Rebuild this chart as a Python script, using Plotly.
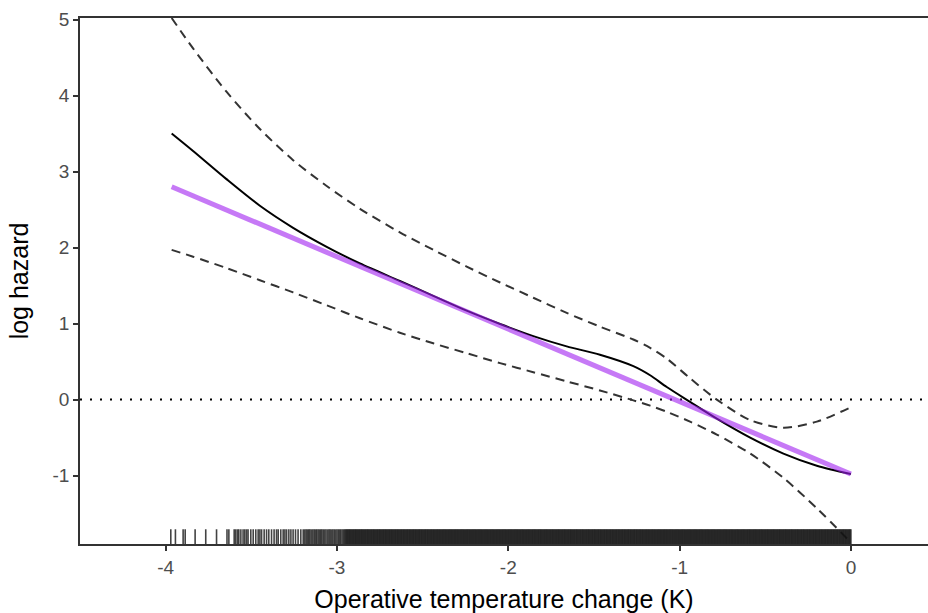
import plotly.graph_objects as go

# ---------------- data ----------------
x_grid = [-3.965, -3.84, -3.645, -3.45, -3.256, -3.06, -2.866, -2.633, -2.438, -2.243,
          -2.048, -1.854, -1.659, -1.465, -1.27, -1.172, -1.075, -0.939, -0.783, -0.588,
          -0.394, -0.199, 0.0]
fit = [3.50, 3.27, 2.90, 2.55, 2.26, 2.01, 1.79, 1.56, 1.365, 1.17,
       0.995, 0.835, 0.70, 0.59, 0.44, 0.32, 0.165, -0.03, -0.25, -0.50,
       -0.71, -0.87, -0.98]
upper = [5.02, 4.62, 4.05, 3.56, 3.15, 2.81, 2.51, 2.20, 1.97, 1.75,
         1.54, 1.34, 1.14, 0.96, 0.79, 0.68, 0.54, 0.28, 0.00, -0.27,
         -0.37, -0.29, -0.10]
lower = [1.97, 1.88, 1.73, 1.57, 1.41, 1.24, 1.07, 0.88, 0.74, 0.61,
         0.48, 0.36, 0.24, 0.12, -0.01, -0.08, -0.16, -0.29, -0.46, -0.71,
         -1.03, -1.43, -1.88]

linear_x = [-3.965, 0.0]
linear_y = [2.80, -0.98]

ref_y = 0

rug_sparse = [-3.970, -3.943, -3.898, -3.886, -3.828, -3.766, -3.703, -3.642, -3.631,
              -3.600, -3.591, -3.581, -3.573, -3.561, -3.548, -3.538, -3.528, -3.519,
              -3.503, -3.489, -3.474, -3.460, -3.450, -3.440, -3.425, -3.411, -3.398,
              -3.382, -3.367, -3.353, -3.343, -3.328, -3.314, -3.304, -3.294, -3.281,
              -3.269, -3.256, -3.242, -3.227, -3.211, -3.197, -3.188,
              -3.180, -3.172, -3.165, -3.158, -3.150, -3.141, -3.133, -3.125, -3.118,
              -3.110, -3.102, -3.095, -3.088, -3.080, -3.072, -3.064, -3.055, -3.047,
              -3.040, -3.032, -3.024, -3.016, -3.008, -3.000, -2.992, -2.985, -2.978,
              -2.970, -2.962, -2.956]

rug_dense = [
    -2.950, -2.945, -2.940, -2.935, -2.930, -2.925, -2.920, -2.915, -2.910, -2.905,
    -2.900, -2.895, -2.890, -2.885, -2.880, -2.875, -2.870, -2.865, -2.860, -2.855,
    -2.850, -2.845, -2.840, -2.835, -2.830, -2.825, -2.820, -2.815, -2.810, -2.805,
    -2.800, -2.795, -2.790, -2.785, -2.780, -2.775, -2.770, -2.765, -2.760, -2.755,
    -2.750, -2.745, -2.740, -2.735, -2.730, -2.725, -2.720, -2.715, -2.710, -2.705,
    -2.700, -2.695, -2.690, -2.685, -2.680, -2.675, -2.670, -2.665, -2.660, -2.655,
    -2.650, -2.645, -2.640, -2.635, -2.630, -2.625, -2.620, -2.615, -2.610, -2.605,
    -2.600, -2.595, -2.590, -2.585, -2.580, -2.575, -2.570, -2.565, -2.560, -2.555,
    -2.550, -2.545, -2.540, -2.535, -2.530, -2.525, -2.520, -2.515, -2.510, -2.505,
    -2.500, -2.495, -2.490, -2.485, -2.480, -2.475, -2.470, -2.465, -2.460, -2.455,
    -2.450, -2.445, -2.440, -2.435, -2.430, -2.425, -2.420, -2.415, -2.410, -2.405,
    -2.400, -2.395, -2.390, -2.385, -2.380, -2.375, -2.370, -2.365, -2.360, -2.355,
    -2.350, -2.345, -2.340, -2.335, -2.330, -2.325, -2.320, -2.315, -2.310, -2.305,
    -2.300, -2.295, -2.290, -2.285, -2.280, -2.275, -2.270, -2.265, -2.260, -2.255,
    -2.250, -2.245, -2.240, -2.235, -2.230, -2.225, -2.220, -2.215, -2.210, -2.205,
    -2.200, -2.195, -2.190, -2.185, -2.180, -2.175, -2.170, -2.165, -2.160, -2.155,
    -2.150, -2.145, -2.140, -2.135, -2.130, -2.125, -2.120, -2.115, -2.110, -2.105,
    -2.100, -2.095, -2.090, -2.085, -2.080, -2.075, -2.070, -2.065, -2.060, -2.055,
    -2.050, -2.045, -2.040, -2.035, -2.030, -2.025, -2.020, -2.015, -2.010, -2.005,
    -2.000, -1.995, -1.990, -1.985, -1.980, -1.975, -1.970, -1.965, -1.960, -1.955,
    -1.950, -1.945, -1.940, -1.935, -1.930, -1.925, -1.920, -1.915, -1.910, -1.905,
    -1.900, -1.895, -1.890, -1.885, -1.880, -1.875, -1.870, -1.865, -1.860, -1.855,
    -1.850, -1.845, -1.840, -1.835, -1.830, -1.825, -1.820, -1.815, -1.810, -1.805,
    -1.800, -1.795, -1.790, -1.785, -1.780, -1.775, -1.770, -1.765, -1.760, -1.755,
    -1.750, -1.745, -1.740, -1.735, -1.730, -1.725, -1.720, -1.715, -1.710, -1.705,
    -1.700, -1.695, -1.690, -1.685, -1.680, -1.675, -1.670, -1.665, -1.660, -1.655,
    -1.650, -1.645, -1.640, -1.635, -1.630, -1.625, -1.620, -1.615, -1.610, -1.605,
    -1.600, -1.595, -1.590, -1.585, -1.580, -1.575, -1.570, -1.565, -1.560, -1.555,
    -1.550, -1.545, -1.540, -1.535, -1.530, -1.525, -1.520, -1.515, -1.510, -1.505,
    -1.500, -1.495, -1.490, -1.485, -1.480, -1.475, -1.470, -1.465, -1.460, -1.455,
    -1.450, -1.445, -1.440, -1.435, -1.430, -1.425, -1.420, -1.415, -1.410, -1.405,
    -1.400, -1.395, -1.390, -1.385, -1.380, -1.375, -1.370, -1.365, -1.360, -1.355,
    -1.350, -1.345, -1.340, -1.335, -1.330, -1.325, -1.320, -1.315, -1.310, -1.305,
    -1.300, -1.295, -1.290, -1.285, -1.280, -1.275, -1.270, -1.265, -1.260, -1.255,
    -1.250, -1.245, -1.240, -1.235, -1.230, -1.225, -1.220, -1.215, -1.210, -1.205,
    -1.200, -1.195, -1.190, -1.185, -1.180, -1.175, -1.170, -1.165, -1.160, -1.155,
    -1.150, -1.145, -1.140, -1.135, -1.130, -1.125, -1.120, -1.115, -1.110, -1.105,
    -1.100, -1.095, -1.090, -1.085, -1.080, -1.075, -1.070, -1.065, -1.060, -1.055,
    -1.050, -1.045, -1.040, -1.035, -1.030, -1.025, -1.020, -1.015, -1.010, -1.005,
    -1.000, -0.995, -0.990, -0.985, -0.980, -0.975, -0.970, -0.965, -0.960, -0.955,
    -0.950, -0.945, -0.940, -0.935, -0.930, -0.925, -0.920, -0.915, -0.910, -0.905,
    -0.900, -0.895, -0.890, -0.885, -0.880, -0.875, -0.870, -0.865, -0.860, -0.855,
    -0.850, -0.845, -0.840, -0.835, -0.830, -0.825, -0.820, -0.815, -0.810, -0.805,
    -0.800, -0.795, -0.790, -0.785, -0.780, -0.775, -0.770, -0.765, -0.760, -0.755,
    -0.750, -0.745, -0.740, -0.735, -0.730, -0.725, -0.720, -0.715, -0.710, -0.705,
    -0.700, -0.695, -0.690, -0.685, -0.680, -0.675, -0.670, -0.665, -0.660, -0.655,
    -0.650, -0.645, -0.640, -0.635, -0.630, -0.625, -0.620, -0.615, -0.610, -0.605,
    -0.600, -0.595, -0.590, -0.585, -0.580, -0.575, -0.570, -0.565, -0.560, -0.555,
    -0.550, -0.545, -0.540, -0.535, -0.530, -0.525, -0.520, -0.515, -0.510, -0.505,
    -0.500, -0.495, -0.490, -0.485, -0.480, -0.475, -0.470, -0.465, -0.460, -0.455,
    -0.450, -0.445, -0.440, -0.435, -0.430, -0.425, -0.420, -0.415, -0.410, -0.405,
    -0.400, -0.395, -0.390, -0.385, -0.380, -0.375, -0.370, -0.365, -0.360, -0.355,
    -0.350, -0.345, -0.340, -0.335, -0.330, -0.325, -0.320, -0.315, -0.310, -0.305,
    -0.300, -0.295, -0.290, -0.285, -0.280, -0.275, -0.270, -0.265, -0.260, -0.255,
    -0.250, -0.245, -0.240, -0.235, -0.230, -0.225, -0.220, -0.215, -0.210, -0.205,
    -0.200, -0.195, -0.190, -0.185, -0.180, -0.175, -0.170, -0.165, -0.160, -0.155,
    -0.150, -0.145, -0.140, -0.135, -0.130, -0.125, -0.120, -0.115, -0.110, -0.105,
    -0.100, -0.095, -0.090, -0.085, -0.080, -0.075, -0.070, -0.065, -0.060, -0.055,
    -0.050, -0.045, -0.040, -0.035, -0.030, -0.025, -0.020, -0.015, -0.010, -0.005,
    0.000]

x_ticks = [-4, -3, -2, -1, 0]
x_tick_labels = ["-4", "-3", "-2", "-1", "0"]
y_ticks = [-1, 0, 1, 2, 3, 4, 5]
y_tick_labels = ["-1", "0", "1", "2", "3", "4", "5"]

x_title = "Operative temperature change (K)"
y_title = "log hazard"

# ---------------- figure ----------------
FONT = "Liberation Sans, Arial, sans-serif"
fig = go.Figure()

ci_line = dict(color="#333333", width=2, dash="9px,6px", shape="spline", smoothing=0.8)
fig.add_trace(go.Scatter(x=x_grid, y=upper, mode="lines", line=ci_line, hoverinfo="skip"))
fig.add_trace(go.Scatter(x=x_grid, y=lower, mode="lines", line=ci_line, hoverinfo="skip"))
fig.add_trace(go.Scatter(x=x_grid, y=fit, mode="lines",
                         line=dict(color="black", width=2, shape="spline", smoothing=0.8)))
fig.add_trace(go.Scatter(x=linear_x, y=linear_y, mode="lines",
                         line=dict(color="rgba(160,32,240,0.6)", width=5)))

shapes = [dict(type="line", xref="x domain", x0=0, x1=1, yref="y", y0=ref_y, y1=ref_y,
               line=dict(color="black", width=2, dash="2px,8px"), layer="below")]
for v in rug_sparse + rug_dense:
    shapes.append(dict(type="line", xref="x", x0=v, x1=v, yref="y domain", y0=0, y1=0.028,
                       line=dict(color="rgba(20,20,20,0.8)", width=1.6), layer="above"))

axis_common = dict(showgrid=False, zeroline=False, showline=True, linecolor="#333333",
                   linewidth=1.6, ticks="outside", ticklen=5, tickwidth=1.6,
                   tickcolor="#333333",
                   tickfont=dict(family=FONT, size=19, color="#4d4d4d"))

fig.update_layout(
    width=928, height=613,
    margin=dict(l=80, r=0, t=18, b=69),
    paper_bgcolor="white", plot_bgcolor="white",
    showlegend=False,
    shapes=shapes,
    font=dict(family=FONT),
    xaxis=dict(range=[-4.5, 0.45], tickvals=x_ticks, ticktext=x_tick_labels, mirror=True,
               title=dict(text=x_title, font=dict(family=FONT, size=25, color="black"),
                          standoff=14),
               **axis_common),
    yaxis=dict(range=[-1.9, 5.02], tickvals=y_ticks, ticktext=y_tick_labels,
               title=dict(text=y_title, font=dict(family=FONT, size=25, color="black"),
                          standoff=17),
               **axis_common),
)

fig.write_html("out.html")
